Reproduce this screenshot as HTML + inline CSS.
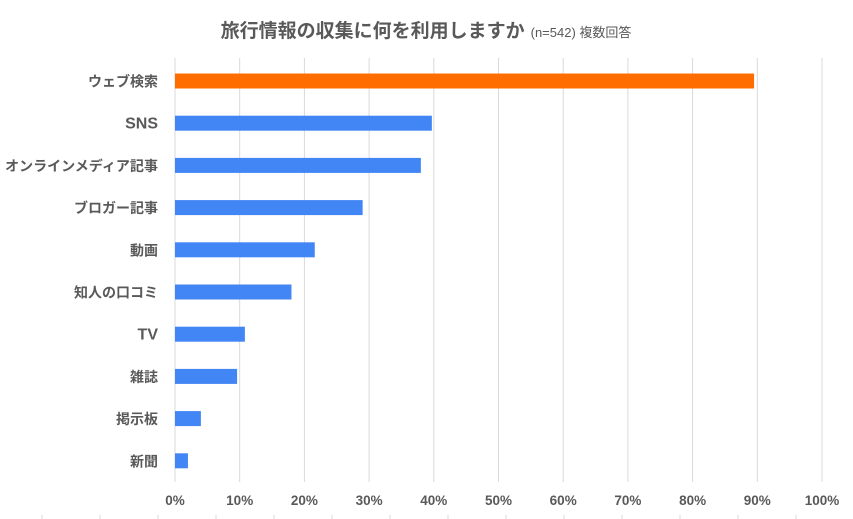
<!DOCTYPE html>
<html><head><meta charset="utf-8"><style>
body{margin:0;background:#fff;}
svg{display:block;font-family:"Liberation Sans","Noto Sans CJK JP",sans-serif;}
</style></head><body>
<svg id="chart" width="853" height="519" viewBox="0 0 853 519">
<text x="426" y="37" text-anchor="middle" fill="#595959"><tspan font-size="19" font-weight="bold">旅行情報の収集に何を利用しますか</tspan><tspan font-size="13" dx="6">(n=542) 複数回答</tspan></text>
<g id="grid"></g><g id="bars"></g><g id="labels"></g><g id="ticks"></g>
</svg>
<script>
const categories=["ウェブ検索","SNS","オンラインメディア記事","ブロガー記事","動画","知人の口コミ","TV","雑誌","掲示板","新聞"];
const values=[89.5,39.7,38,29,21.6,18,10.8,9.6,4,2];
const tickValues=[0,10,20,30,40,50,60,70,80,90,100];
const tickLabels=["0%","10%","20%","30%","40%","50%","60%","70%","80%","90%","100%"];
const highlight=[true,false,false,false,false,false,false,false,false,false];
const NS="http://www.w3.org/2000/svg";
const x0=175,x1=822,yTop=60,rowH=42.2,row0=81;
const xs=v=>x0+(x1-x0)*v/100;
const yc=i=>row0+i*rowH;
function mk(t,a,p){const e=document.createElementNS(NS,t);for(const k in a)e.setAttribute(k,a[k]);p.appendChild(e);return e;}
const grid=document.getElementById('grid'),bars=document.getElementById('bars'),labels=document.getElementById('labels'),ticks=document.getElementById('ticks');
tickValues.forEach((v,i)=>{
  const l=mk('line',{x1:xs(v),x2:xs(v),y1:yTop-2,y2:482,stroke:'#d9d9d9','stroke-width':1},grid);
  
  
  const t=mk('text',{x:xs(v),y:505,'text-anchor':'middle','font-size':13.5,'font-weight':'bold',fill:'#595959'},ticks);
  t.textContent=tickLabels[i];
  
  
});
for(let x=42;x<853;x+=58){const m=mk('line',{x1:x,x2:x,y1:515,y2:519,stroke:'#d9d9d9'},grid);
  
  }
categories.forEach((c,i)=>{
  const r=mk('rect',{x:x0,y:yc(i)-7.5,width:xs(values[i])-x0,height:15,fill:highlight[i]?'#FF6D00':'#4285F4'},bars);
  
  
  const t=mk('text',{x:158,y:yc(i)+5.5,'text-anchor':'end','font-size':/^[A-Z]+$/.test(c)?16:14,'font-weight':'bold',fill:'#595959'},labels);
  t.textContent=c;
  if(c.length>8){t.setAttribute('textLength',153);t.setAttribute('lengthAdjust','spacingAndGlyphs');}
  
  
});
</script>
</body></html>
